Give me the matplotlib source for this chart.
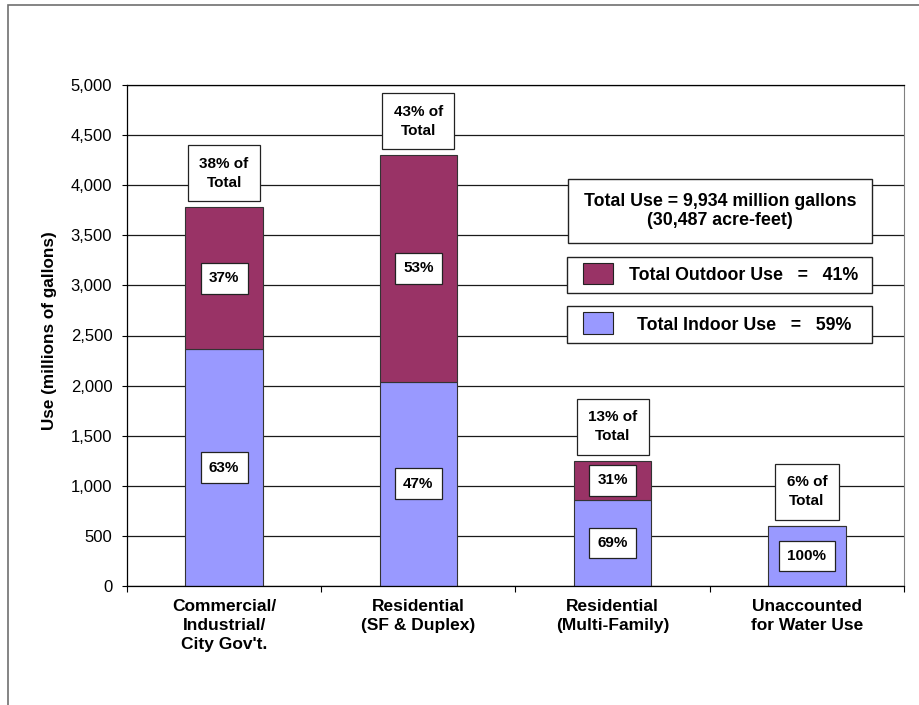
import matplotlib

matplotlib.use("Agg")
import matplotlib.pyplot as plt
from matplotlib.patches import Rectangle
import numpy as np

categories = [
    "Commercial/\nIndustrial/\nCity Gov't.",
    "Residential\n(SF & Duplex)",
    "Residential\n(Multi-Family)",
    "Unaccounted\nfor Water Use",
]
indoor = [2365, 2040, 860, 600]
outdoor = [1415, 2260, 390, 0]
indoor_pct = ["63%", "47%", "69%", "100%"]
outdoor_pct = ["37%", "53%", "31%", None]
share_of_total = ["38% of\nTotal", "43% of\nTotal", "13% of\nTotal", "6% of\nTotal"]
yticks = list(range(0, 5001, 500))
total_text = "Total Use = 9,934 million gallons\n(30,487 acre-feet)"
outdoor_label = "Total Outdoor Use   =   41%"
indoor_label = "Total Indoor Use   =   59%"

INDOOR_COLOR = "#9999FF"
OUTDOOR_COLOR = "#993366"
EDGE = "#222222"
W, H = 920, 705

plt.rcParams["font.family"] = ["Liberation Sans", "DejaVu Sans"]


def fpx(x, y):
    # figure pixel (from top-left) -> figure fraction
    return x / W, 1 - y / H


fig = plt.figure(figsize=(W / 100, H / 100), dpi=100)
ax = fig.add_axes([127 / W, 1 - 586 / H, (904 - 127) / W, (586 - 85) / H])

# outer chart frame (only left and top edges are visible)
fig.add_artist(Rectangle((8 / W, -1), 2, 2 - 5 / H, transform=fig.transFigure,
                         fill=False, edgecolor="#6f6f6f", lw=1.2, clip_on=False))

x = np.arange(len(categories))
totals = [a + b for a, b in zip(indoor, outdoor)]

ax.set_axisbelow(True)
ax.yaxis.grid(True, color="#1a1a1a", lw=0.9)
ax.bar(x, indoor, 0.4, color=INDOOR_COLOR, edgecolor="#333333", lw=0.8, zorder=2)
ax.bar(x, outdoor, 0.4, bottom=indoor, color=OUTDOOR_COLOR, edgecolor="#333333", lw=0.8, zorder=2)

small_box = dict(boxstyle="square,pad=0.55", fc="white", ec=EDGE, lw=0.9)
share_box = dict(boxstyle="square,pad=0.75", fc="white", ec=EDGE, lw=0.9)
for i in range(len(categories)):
    ax.text(x[i], totals[i] + 340, share_of_total[i], ha="center", va="center",
            fontsize=11, fontweight="bold", linespacing=1.45, bbox=share_box, zorder=4)
    ax.text(x[i], indoor[i] / 2, indoor_pct[i], ha="center", va="center",
            fontsize=11, fontweight="bold", bbox=small_box, zorder=4)
    if outdoor_pct[i]:
        ax.text(x[i], indoor[i] + outdoor[i] / 2, outdoor_pct[i], ha="center", va="center",
                fontsize=11, fontweight="bold", bbox=small_box, zorder=4)

ax.set_xlim(-0.5, len(categories) - 0.5)
ax.set_ylim(0, 5000)
ax.set_yticks(yticks)
ax.set_yticklabels([f"{v:,}" for v in yticks], fontsize=12)
ax.tick_params(axis="y", length=3.6, width=0.8, pad=7)
ax.set_xticks(x)
ax.set_xticklabels(categories, fontsize=12.5, fontweight="bold", linespacing=1.32)
ax.tick_params(axis="x", which="major", length=0, pad=9.5)
ax.set_xticks(np.arange(-0.5, len(categories)), minor=True)
ax.tick_params(axis="x", which="minor", length=4.3, width=0.8)

ax.set_ylabel("Use (millions of gallons)", fontsize=12.3, fontweight="bold")
ax.yaxis.set_label_coords(-0.090, 0.509)

for side in ["left", "bottom", "top"]:
    ax.spines[side].set_color("black")
    ax.spines[side].set_linewidth(0.9)
ax.spines["right"].set_color("#808080")

# total use box
x0, y0 = fpx(567.7, 242.7)
fig.add_artist(Rectangle((x0, y0), 304 / W, 63.4 / H, transform=fig.transFigure,
                         fc="white", ec=EDGE, lw=1.0, zorder=5))
tx, ty = fpx(720, 211)
fig.text(tx, ty, total_text, ha="center", va="center", fontsize=12.8, fontweight="bold",
         linespacing=1.12, zorder=6)

# legend boxes
for label, color, top, bottom, sw_top, sw_bot, text_x, text_y in [
    (outdoor_label, OUTDOOR_COLOR, 257, 293, 263, 284, 744, 276),
    (indoor_label, INDOOR_COLOR, 306, 343, 312, 334, 744, 325),
]:
    bx, by = fpx(567, bottom)
    fig.add_artist(Rectangle((bx, by), 305 / W, (bottom - top) / H, transform=fig.transFigure,
                             fc="white", ec=EDGE, lw=1.0, zorder=5))
    sx, sy = fpx(583, sw_bot)
    fig.add_artist(Rectangle((sx, sy), 30 / W, (sw_bot - sw_top) / H, transform=fig.transFigure,
                             fc=color, ec=EDGE, lw=0.8, zorder=6))
    lx, ly = fpx(text_x, text_y)
    fig.text(lx, ly, label, ha="center", va="center", fontsize=12.8, fontweight="bold", zorder=6)

fig.savefig("out.png", dpi=100)
plt.close(fig)
